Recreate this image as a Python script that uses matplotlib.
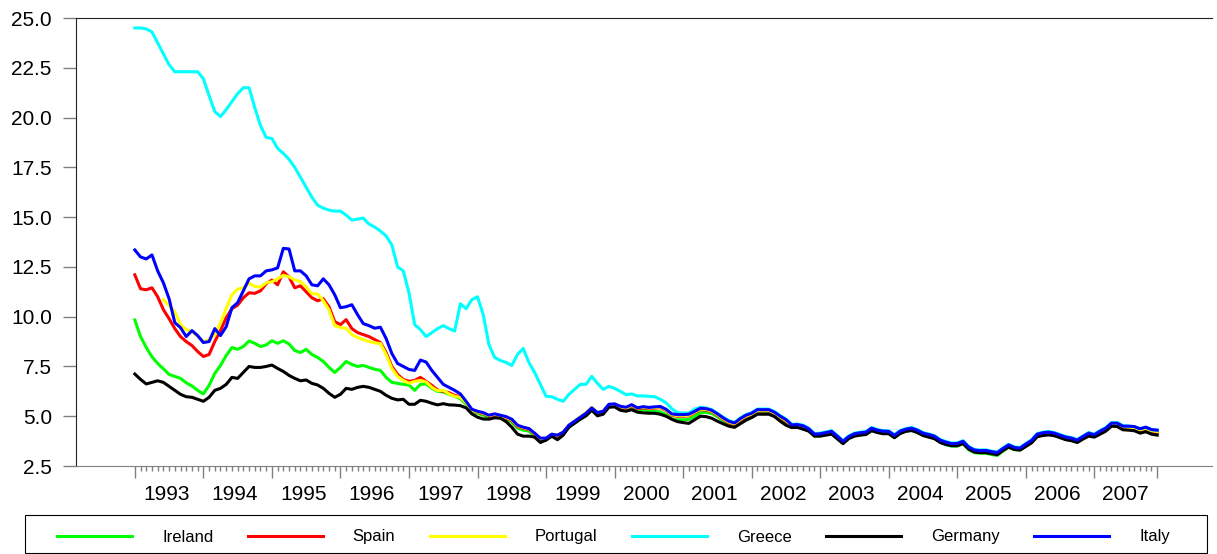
import numpy as np
import matplotlib
matplotlib.use("Agg")
import matplotlib.pyplot as plt
from matplotlib.patches import Rectangle

plt.rcParams['font.family'] = ['Liberation Sans', 'DejaVu Sans']

nan = np.nan
years = ['1993', '1994', '1995', '1996', '1997', '1998', '1999', '2000',
         '2001', '2002', '2003', '2004', '2005', '2006', '2007']
names = ['Ireland', 'Spain', 'Portugal', 'Greece', 'Germany', 'Italy']
colors = ['#00ff00', '#ff0000', '#ffff00', '#00ffff', '#000000', '#0000ff']

# monthly 10y yields, Jan 1993 - Dec 2007
ireland = [
    9.83, 9.0, 8.45, 7.98, 7.65, 7.38, 7.1, 7.0, 6.9, 6.68, 6.52, 6.3,
    6.12, 6.55, 7.15, 7.55, 8.05, 8.45, 8.36, 8.5, 8.78, 8.66, 8.5, 8.58,
    8.79, 8.66, 8.79, 8.63, 8.3, 8.2, 8.36, 8.1, 7.95, 7.75, 7.45, 7.2,
    7.45, 7.75, 7.6, 7.5, 7.55, 7.45, 7.36, 7.3, 6.95, 6.7, 6.65, 6.6,
    6.57, 6.3, 6.6, 6.62, 6.4, 6.25, 6.22, 6.1, 6.0, 5.88, 5.6, 5.25,
    5.15, 5.05, 4.92, 5.0, 4.95, 4.85, 4.7, 4.4, 4.3, 4.25, 4.03, 3.8,
    3.8, 4.0, 3.95, 4.1, 4.45, 4.66, 4.86, 5.05, 5.33, 5.08, 5.15, 5.5,
    5.5, 5.38, 5.3, 5.45, 5.3, 5.33, 5.27, 5.25, 5.22, 5.08, 4.87, 4.82,
    4.82, 4.84, 5.0, 5.17, 5.2, 5.14, 4.98, 4.78, 4.6, 4.5, 4.72, 4.9,
    5.02, 5.2, 5.22, 5.22, 5.08, 4.88, 4.7, 4.45, 4.47, 4.4, 4.26, 4.0,
    4.02, 4.08, 4.14, 3.9, 3.65, 3.88, 4.02, 4.07, 4.1, 4.3, 4.2, 4.15,
    4.14, 3.94, 4.15, 4.25, 4.3, 4.2, 4.05, 3.98, 3.9, 3.7, 3.58, 3.5,
    3.5, 3.62, 3.32, 3.17, 3.14, 3.14, 3.08, 3.03, 3.25, 3.44, 3.32, 3.3,
    3.5, 3.68, 4.0, 4.07, 4.1, 4.05, 3.95, 3.85, 3.8, 3.7, 3.88, 4.05,
    3.98, 4.15, 4.3, 4.56, 4.55, 4.4, 4.4, 4.38, 4.27, 4.35, 4.23, 4.2]

spain = [
    12.1, 11.4, 11.35, 11.45, 11.0, 10.35, 9.9, 9.4, 9.0, 8.75, 8.55, 8.25,
    8.0, 8.1, 8.75, 9.3, 9.95, 10.4, 10.58, 10.95, 11.2, 11.17, 11.3, 11.65,
    11.84, 11.6, 12.25, 12.0, 11.45, 11.55, 11.25, 10.95, 10.8, 10.9, 10.5, 9.75,
    9.6, 9.85, 9.4, 9.2, 9.1, 9.0, 8.85, 8.7, 8.2, 7.5, 7.1, 6.85,
    6.75, 6.8, 6.95, 6.75, 6.55, 6.32, 6.25, 6.18, 6.05, 5.98, 5.7, 5.3,
    5.2, 5.12, 5.0, 5.06, 5.0, 4.92, 4.78, 4.48, 4.4, 4.33, 4.1, 3.85,
    3.85, 4.05, 4.0, 4.15, 4.5, 4.7, 4.9, 5.1, 5.38, 5.13, 5.2, 5.55,
    5.57, 5.44, 5.38, 5.52, 5.37, 5.42, 5.38, 5.41, 5.43, 5.29, 5.05, 5.0,
    5.0, 5.02, 5.17, 5.33, 5.31, 5.23, 5.05, 4.85, 4.67, 4.58, 4.8, 4.98,
    5.08, 5.26, 5.27, 5.27, 5.13, 4.93, 4.75, 4.5, 4.52, 4.45, 4.3, 4.03,
    4.05, 4.11, 4.17, 3.93, 3.67, 3.91, 4.05, 4.1, 4.13, 4.33, 4.23, 4.18,
    4.17, 3.97, 4.18, 4.28, 4.33, 4.23, 4.08, 4.01, 3.93, 3.73, 3.63, 3.55,
    3.56, 3.67, 3.38, 3.23, 3.2, 3.21, 3.15, 3.1, 3.31, 3.49, 3.36, 3.33,
    3.53, 3.71, 4.03, 4.1, 4.13, 4.08, 3.98, 3.88, 3.83, 3.73, 3.91, 4.08,
    4.0, 4.17, 4.32, 4.57, 4.55, 4.4, 4.38, 4.36, 4.25, 4.33, 4.2, 4.17]

portugal = [
    nan, nan, nan, nan, nan, 10.85, 10.55, 10.25, 9.6, 9.35, 9.25, 9.02,
    8.72, 8.85, 9.1, 9.7, 10.4, 11.1, 11.38, 11.45, 11.68, 11.52, 11.48, 11.7,
    11.75, 11.9, 12.08, 12.0, 11.85, 11.76, 11.5, 11.15, 11.14, 10.8, 10.35, 9.55,
    9.45, 9.42, 9.1, 8.95, 8.85, 8.75, 8.69, 8.65, 8.1, 7.4, 7.0, 6.8,
    6.66, 6.75, 6.8, 6.72, 6.45, 6.28, 6.3, 6.12, 6.0, 5.95, 5.68, 5.3,
    5.22, 5.15, 5.03, 5.09, 5.02, 4.95, 4.82, 4.52, 4.43, 4.36, 4.13, 3.88,
    3.89, 4.09, 4.05, 4.2, 4.56, 4.76, 4.97, 5.18, 5.45, 5.2, 5.24, 5.58,
    5.6, 5.48, 5.41, 5.55, 5.41, 5.46, 5.41, 5.44, 5.46, 5.32, 5.08, 5.03,
    5.03, 5.05, 5.2, 5.36, 5.34, 5.26, 5.08, 4.88, 4.71, 4.62, 4.84, 5.01,
    5.11, 5.29, 5.3, 5.3, 5.16, 4.96, 4.79, 4.54, 4.55, 4.48, 4.33, 4.06,
    4.08, 4.14, 4.2, 3.96, 3.7, 3.94, 4.08, 4.13, 4.16, 4.35, 4.25, 4.2,
    4.19, 3.99, 4.2, 4.3, 4.35, 4.25, 4.1, 4.02, 3.94, 3.74, 3.64, 3.56,
    3.56, 3.66, 3.37, 3.22, 3.19, 3.2, 3.14, 3.09, 3.3, 3.47, 3.35, 3.32,
    3.51, 3.69, 4.01, 4.08, 4.11, 4.06, 3.96, 3.86, 3.81, 3.72, 3.9, 4.06,
    4.0, 4.18, 4.34, 4.6, 4.6, 4.45, 4.44, 4.42, 4.31, 4.39, 4.27, 4.23]

greece = [
    24.5, 24.5, 24.45, 24.3, 23.75, 23.2, 22.65, 22.3, 22.3, 22.3, 22.3, 22.3,
    21.95, 21.1, 20.3, 20.05, 20.4, 20.8, 21.2, 21.5, 21.5, 20.5, 19.6, 19.0,
    18.95, 18.45, 18.2, 17.9, 17.5, 17.0, 16.5, 16.0, 15.6, 15.45, 15.35, 15.3,
    15.3, 15.1, 14.85, 14.9, 14.95, 14.65, 14.5, 14.3, 14.05, 13.6, 12.5, 12.3,
    11.2, 9.6, 9.35, 9.0, 9.2, 9.4, 9.55, 9.4, 9.28, 10.65, 10.4, 10.85,
    11.0, 10.1, 8.6, 7.95, 7.8, 7.7, 7.55, 8.1, 8.4, 7.7, 7.2, 6.6,
    6.0, 5.98, 5.85, 5.75, 6.1, 6.35, 6.6, 6.6, 7.0, 6.65, 6.35, 6.5,
    6.4, 6.25, 6.08, 6.12, 6.02, 6.02, 6.0, 5.98, 5.85, 5.68, 5.38, 5.18,
    5.16, 5.16, 5.35, 5.45, 5.42, 5.33, 5.15, 4.95, 4.78, 4.69, 4.91, 5.08,
    5.18, 5.36, 5.36, 5.36, 5.23, 5.03, 4.86, 4.6, 4.61, 4.55, 4.4, 4.13,
    4.15, 4.21, 4.27, 4.03, 3.77, 4.01, 4.15, 4.2, 4.23, 4.43, 4.33, 4.28,
    4.27, 4.07, 4.28, 4.38, 4.43, 4.33, 4.18, 4.11, 4.03, 3.83, 3.73, 3.65,
    3.66, 3.77, 3.48, 3.33, 3.3, 3.31, 3.25, 3.2, 3.41, 3.59, 3.46, 3.43,
    3.63, 3.81, 4.13, 4.2, 4.23, 4.18, 4.08, 3.98, 3.93, 3.83, 4.01, 4.18,
    4.1, 4.28, 4.43, 4.68, 4.68, 4.53, 4.5, 4.48, 4.37, 4.45, 4.33, 4.3]

germany = [
    7.12, 6.85, 6.62, 6.7, 6.78, 6.7, 6.5, 6.3, 6.1, 5.98, 5.95, 5.85,
    5.75, 5.95, 6.3, 6.4, 6.6, 6.95, 6.9, 7.2, 7.5, 7.45, 7.45, 7.5,
    7.57, 7.4, 7.25, 7.05, 6.9, 6.78, 6.82, 6.65, 6.57, 6.4, 6.15, 5.95,
    6.1, 6.4, 6.35, 6.45, 6.5, 6.45, 6.35, 6.25, 6.05, 5.9, 5.82, 5.85,
    5.6, 5.6, 5.8, 5.75, 5.65, 5.57, 5.63, 5.57, 5.56, 5.53, 5.42, 5.12,
    4.95, 4.86, 4.85, 4.92, 4.9, 4.73, 4.45, 4.1, 4.0, 4.0, 3.95, 3.68,
    3.8, 4.0, 3.82, 4.05, 4.45, 4.65, 4.85, 5.02, 5.3, 5.02, 5.1, 5.45,
    5.47, 5.3, 5.25, 5.33, 5.2, 5.17, 5.15, 5.15, 5.1, 5.0, 4.85, 4.73,
    4.68, 4.64, 4.82, 5.0, 4.98, 4.9, 4.75, 4.62, 4.5, 4.44, 4.62, 4.8,
    4.93, 5.1, 5.1, 5.1, 4.98, 4.75, 4.55, 4.43, 4.44, 4.35, 4.25, 4.0,
    4.0, 4.05, 4.1, 3.86, 3.62, 3.88, 4.0, 4.05, 4.08, 4.27, 4.18, 4.12,
    4.12, 3.92, 4.13, 4.24, 4.28, 4.18, 4.03, 3.95, 3.87, 3.68, 3.58, 3.52,
    3.52, 3.63, 3.35, 3.2, 3.17, 3.17, 3.12, 3.07, 3.28, 3.45, 3.33, 3.3,
    3.48, 3.66, 3.97, 4.03, 4.06, 4.02, 3.92, 3.82, 3.77, 3.68, 3.85, 4.0,
    3.95, 4.1, 4.25, 4.5, 4.48, 4.32, 4.3, 4.27, 4.15, 4.22, 4.1, 4.05]

italy = [
    13.35, 13.0, 12.9, 13.1, 12.3, 11.7, 10.9, 9.7, 9.45, 9.0, 9.3, 9.05,
    8.7, 8.75, 9.4, 9.05, 9.5, 10.45, 10.7, 11.3, 11.9, 12.05, 12.05, 12.3,
    12.35, 12.45, 13.43, 13.4, 12.3, 12.3, 12.05, 11.6, 11.55, 11.9, 11.6, 11.1,
    10.45, 10.5, 10.6, 10.1, 9.65, 9.55, 9.42, 9.47, 8.9, 8.15, 7.65, 7.5,
    7.35, 7.3, 7.82, 7.72, 7.3, 6.95, 6.6, 6.45, 6.3, 6.12, 5.75, 5.35,
    5.25, 5.18, 5.05, 5.12, 5.05, 4.98, 4.85, 4.55, 4.45, 4.38, 4.15, 3.9,
    3.9, 4.1, 4.05, 4.2, 4.55, 4.75, 4.95, 5.15, 5.42, 5.18, 5.25, 5.6,
    5.62, 5.5, 5.45, 5.58, 5.42, 5.48, 5.44, 5.47, 5.49, 5.35, 5.12, 5.08,
    5.08, 5.1, 5.24, 5.4, 5.38, 5.3, 5.12, 4.92, 4.75, 4.66, 4.88, 5.05,
    5.15, 5.33, 5.33, 5.33, 5.2, 5.0, 4.83, 4.57, 4.58, 4.52, 4.37, 4.1,
    4.12, 4.18, 4.24, 4.0, 3.74, 3.98, 4.12, 4.17, 4.2, 4.4, 4.3, 4.25,
    4.24, 4.04, 4.25, 4.35, 4.4, 4.3, 4.15, 4.08, 4.0, 3.8, 3.7, 3.62,
    3.63, 3.74, 3.45, 3.3, 3.27, 3.28, 3.22, 3.17, 3.38, 3.56, 3.43, 3.4,
    3.6, 3.78, 4.1, 4.17, 4.2, 4.15, 4.05, 3.95, 3.9, 3.8, 3.98, 4.15,
    4.07, 4.25, 4.4, 4.65, 4.65, 4.5, 4.5, 4.48, 4.37, 4.45, 4.33, 4.3]

series = [ireland, spain, portugal, greece, germany, italy]

W, H = 1217, 554
fig = plt.figure(figsize=(W / 100, H / 100), dpi=100)
ax = fig.add_axes([76 / W, 88 / H, (1212 - 76) / W, 448 / H])

x = np.arange(len(italy))
lines = []
for vals, name, c in zip(series, names, colors):
    ln, = ax.plot(x, vals, color=c, lw=2.2, label=name)
    lines.append(ln)

ax.set_xlim(-10.3, 188.6)
ax.set_ylim(2.5, 25.0)
ax.set_yticks(np.arange(2.5, 25.01, 2.5))
ax.set_yticklabels(['%.1f' % v for v in np.arange(2.5, 25.01, 2.5)])

ax.set_xticks(list(range(0, 180, 12)) + [179])
ax.set_xticks(range(180), minor=True)
ax.tick_params(axis='x', which='major', direction='out', length=8.6, width=1,
               color='#808080', labelbottom=False)
ax.tick_params(axis='x', which='minor', direction='out', length=3.6, width=1,
               color='#808080')
ax.tick_params(axis='y', direction='out', length=9.4, width=1, color='#808080',
               labelsize=15, pad=8)

for s in ['top', 'left']:
    ax.spines[s].set_color('#222222')
ax.spines['bottom'].set_color('#808080')
ax.spines['right'].set_visible(False)

sec = ax.secondary_xaxis('bottom')
sec.set_xticks([12 * i + 5.5 for i in range(len(years))], years)
sec.tick_params(length=0, labelsize=15, pad=14)
sec.spines['bottom'].set_visible(False)

fig.patches.append(Rectangle((25 / W, 1 / H), 1182 / W, 38 / H,
                             transform=fig.transFigure, fill=False,
                             edgecolor='black', lw=0.8))
fig.legend(lines, names, loc='center', bbox_to_anchor=(57 / W, -2 / H, 1113 / W, 38 / H),
           mode='expand', ncol=6, frameon=False, borderpad=0, borderaxespad=0,
           handlelength=4.5, handletextpad=1.8, fontsize=12)

fig.savefig('out.png', dpi=100)
